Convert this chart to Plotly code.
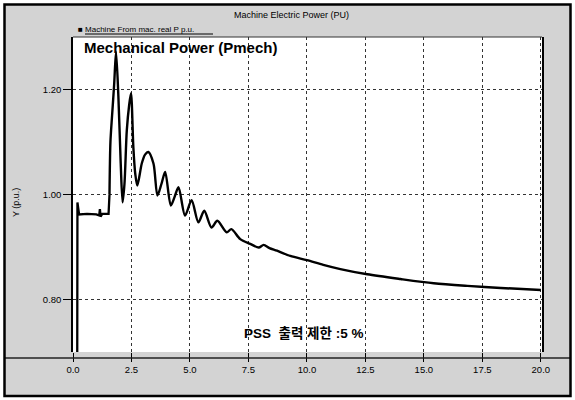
import plotly.graph_objects as go

# Data
time_s = [0.18, 0.19, 0.22, 0.26, 0.60, 1.00, 1.12, 1.15, 1.18, 1.25, 1.52, 1.56, 1.60, 1.67,
          1.76, 1.84, 1.94, 2.04, 2.12, 2.20, 2.30, 2.40, 2.48, 2.58, 2.66, 2.75, 2.94, 3.08,
          3.22, 3.44, 3.61, 3.78, 3.94, 4.18, 4.34, 4.51, 4.79, 5.07, 5.36, 5.61, 5.92, 6.17,
          6.57, 6.77, 7.15, 7.58, 7.94, 8.15, 8.40, 8.72, 9.29, 10.0, 10.7, 11.43, 12.58,
          14.0, 15.42, 16.86, 18.29, 20.0]
pmech = [0.65, 0.985, 0.975, 0.962, 0.963, 0.962, 0.960, 0.972, 0.958, 0.963, 0.963, 1.00, 1.10, 1.15,
         1.21, 1.272, 1.187, 1.059, 0.985, 1.02, 1.122, 1.17, 1.193, 1.090, 1.04, 1.017, 1.059, 1.076,
         1.081, 1.059, 0.998, 1.02, 1.043, 0.979, 0.995, 1.014, 0.960, 0.989, 0.947, 0.969, 0.937, 0.950,
         0.928, 0.934, 0.915, 0.906, 0.899, 0.904, 0.898, 0.893, 0.883, 0.875, 0.866, 0.858, 0.848,
         0.839, 0.831, 0.826, 0.822, 0.818]
split_index = 11  # first point of the oscillation (drawn smoothed)

x_ticks = [0.0, 2.5, 5.0, 7.5, 10.0, 12.5, 15.0, 17.5, 20.0]
x_tick_labels = ["0.0", "2.5", "5.0", "7.5", "10.0", "12.5", "15.0", "17.5", "20.0"]
y_ticks = [0.80, 1.00, 1.20]
y_tick_labels = ["0.80", "1.00", "1.20"]

W, H = 575, 400
L, R, T, B = 73, 542, 37, 352
pw, ph = R - L, B - T


def px(x):
    return (x - L) / pw


def py(y):
    return (B - y) / ph


fig = go.Figure()
fig.add_trace(go.Scatter(x=time_s[:split_index + 1], y=pmech[:split_index + 1], mode="lines",
                         line=dict(color="black", width=2.3), showlegend=False))
fig.add_trace(go.Scatter(x=time_s[split_index:], y=pmech[split_index:], mode="lines",
                         line=dict(color="black", width=2.4, shape="spline", smoothing=0.8),
                         showlegend=False))

font_main = "Liberation Sans, Arial, sans-serif"

fig.update_layout(
    width=W, height=H,
    margin=dict(l=L, r=W - R, t=T, b=H - B),
    paper_bgcolor="#d3d3d3",
    plot_bgcolor="white",
    font=dict(family=font_main, color="black", size=9),
    xaxis=dict(range=[0, 20.05], tickvals=x_ticks, ticktext=x_tick_labels,
               showgrid=True, gridcolor="#333", griddash="dot", gridwidth=1,
               ticks="outside", ticklen=9, tickcolor="black", zeroline=False,
               showline=False, tickfont=dict(size=9.5, family=font_main)),
    yaxis=dict(range=[0.7, 1.3], tickvals=y_ticks, ticktext=y_tick_labels,
               showgrid=True, gridcolor="#333", griddash="dot", gridwidth=1,
               ticks="outside", ticklen=8, tickcolor="black", zeroline=False,
               showline=True, linecolor="black", linewidth=1.5, mirror=True,
               tickfont=dict(size=9.5, family=font_main)),
)

shapes = [
    dict(type="line", xref="paper", yref="paper", x0=0, x1=1, y0=1, y1=1,
         line=dict(color="#333", width=1)),
    dict(type="line", xref="paper", yref="paper", x0=px(5), x1=px(571), y0=py(358), y1=py(358),
         line=dict(color="#222", width=1.5)),
    dict(type="rect", xref="paper", yref="paper", x0=px(0), x1=px(575), y0=py(400), y1=py(0),
         line=dict(color="white", width=8)),
    dict(type="rect", xref="paper", yref="paper", x0=px(4.5), x1=px(570.5), y0=py(396), y1=py(4.5),
         line=dict(color="black", width=2.5)),
    dict(type="line", xref="paper", yref="paper", x0=px(85), x1=px(213), y0=py(34), y1=py(34),
         line=dict(color="black", width=1)),
]
fig.update_layout(shapes=shapes)

annotations = [
    dict(text="Machine Electric Power (PU)", x=px(291), y=py(15), xref="paper", yref="paper",
         showarrow=False, xanchor="center", yanchor="middle",
         font=dict(size=9, family=font_main, color="black")),
    dict(text="■ Machine From mac. real P p.u.", x=px(76), y=py(29), xref="paper", yref="paper",
         showarrow=False, xanchor="left", yanchor="middle",
         font=dict(size=8, family=font_main, color="black")),
    dict(text="<b>Mechanical Power (Pmech)</b>", x=px(82), y=py(47), xref="paper", yref="paper",
         showarrow=False, xanchor="left", yanchor="middle",
         font=dict(size=15, family=font_main, color="black")),
    dict(text="<b>PSS  출력 제한 :5 %</b>", x=px(242), y=py(333), xref="paper", yref="paper",
         showarrow=False, xanchor="left", yanchor="middle",
         font=dict(size=13.5, family="Liberation Sans, Noto Sans CJK KR, sans-serif", color="black")),
    dict(text="Y (p.u.)", x=px(16), y=py(203), xref="paper", yref="paper", textangle=-90,
         showarrow=False, xanchor="center", yanchor="middle",
         font=dict(size=9, family=font_main, color="black")),
]
fig.update_layout(annotations=annotations)

fig.write_html("out.html")
